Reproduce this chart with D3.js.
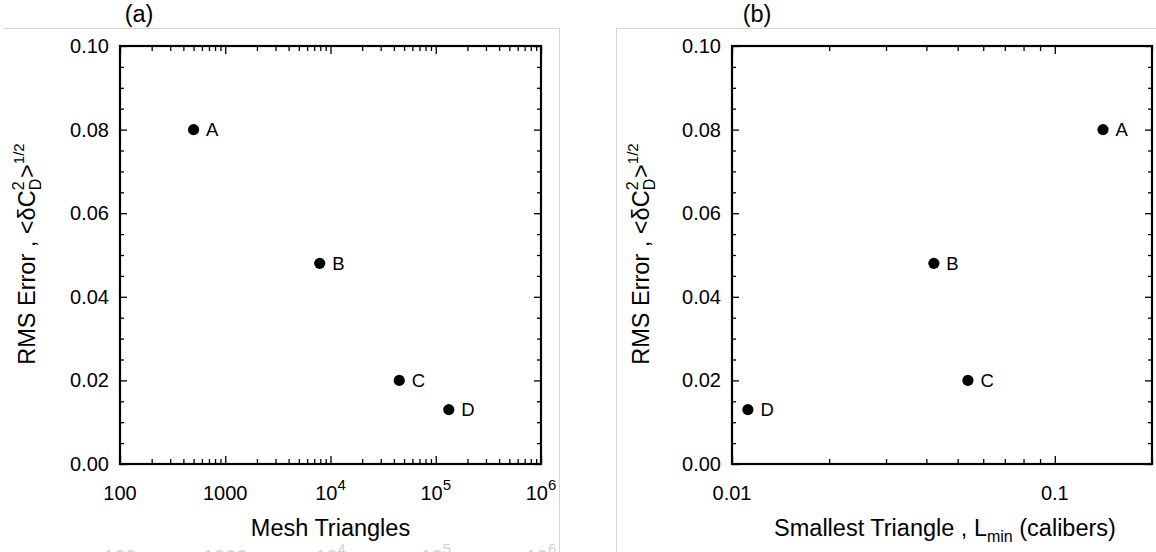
<!DOCTYPE html>
<html>
<head>
<meta charset="utf-8">
<script src="https://cdn.jsdelivr.net/npm/d3@7/dist/d3.min.js"></script>
<style>
  body { margin: 0; background: #fff; }
  svg { display: block; }
  text { font-family: "Liberation Sans", Arial, Helvetica, sans-serif; fill: #000; }
</style>
</head>
<body>
<svg id="chart" width="1156" height="552"></svg>
<script>
// Mesh refinement study: RMS drag error against mesh size
const pointLabels = ["A", "B", "C", "D"];
const meshTriangles = [500, 7900, 45000, 133000];
const smallestTriangle = [0.141, 0.0422, 0.0538, 0.0112];
const rmsError = [0.080, 0.048, 0.020, 0.013];

const yDomain = [0, 0.10];
const yMajorTicks = [0, 0.02, 0.04, 0.06, 0.08, 0.10];
const yMinorStep = 0.005;
const meshDomain = [100, 1e6];
const meshMajorTicks = [100, 1000, 1e4, 1e5, 1e6];
const lminDomain = [0.01, 0.2];
const lminMajorTicks = [0.01, 0.1];
const panelTags = ["(a)", "(b)"];

const svg = d3.select("#chart");
const FONT_TICK = 20, FONT_TITLE = 23.5, FONT_SUP = 15;
const plotTop = 46, plotBottom = 464;

// light panel frames
const frame = svg.append("g").attr("stroke", "#d4d4d4").attr("stroke-width", 1).attr("fill", "none");
frame.append("path").attr("d", "M3,28.5H559.5V552");
frame.append("path").attr("d", "M616.5,552V28.5H1156");

const y = d3.scaleLinear().domain(yDomain).range([plotBottom, plotTop]);
const yMinor = d3.range(yDomain[0], yDomain[1] + 1e-9, yMinorStep)
  .filter(v => !yMajorTicks.some(m => Math.abs(m - v) < 1e-9));

function superPow(t, p) {
  t.append("tspan").text("10");
  t.append("tspan").attr("font-size", FONT_SUP).attr("dy", -10).text(p);
}

function panel(opts) {
  const { x, xs, xMajor, xFmt, tag, tagX, titleGap } = opts;
  const [x0, x1] = x.range();
  const g = svg.append("g");

  // y ticks, inward on both sides
  const yMaj = d3.axisLeft(y).tickValues(yMajorTicks).tickSize(-7).tickPadding(11)
    .tickFormat(d3.format(".2f"));
  const gy = g.append("g").attr("transform", `translate(${x0},0)`).call(yMaj);
  gy.append("g").call(d3.axisLeft(y).tickValues(yMinor).tickSize(-4).tickFormat(""));
  const gyr = g.append("g").attr("transform", `translate(${x1},0)`);
  gyr.call(d3.axisRight(y).tickValues(yMajorTicks).tickSize(-7).tickFormat(""));
  gyr.append("g").call(d3.axisRight(y).tickValues(yMinor).tickSize(-4).tickFormat(""));

  // x ticks (log), inward on bottom and top
  const xMinor = x.ticks().filter(v => !xMajor.some(m => Math.abs(m - v) / m < 1e-6));
  const gx = g.append("g").attr("transform", `translate(0,${plotBottom})`)
    .call(d3.axisBottom(x).tickValues(xMajor).tickSize(-8).tickFormat(""));
  gx.append("g").call(d3.axisBottom(x).tickValues(xMinor).tickSize(-5).tickFormat(""));
  const gxt = g.append("g").attr("transform", `translate(0,${plotTop})`)
    .call(d3.axisTop(x).tickValues(xMajor).tickSize(-8).tickFormat(""));
  gxt.append("g").call(d3.axisTop(x).tickValues(xMinor).tickSize(-5).tickFormat(""));

  g.selectAll(".domain").remove();
  g.selectAll(".tick line").attr("stroke", "#000").attr("stroke-width", 1.3);
  gy.selectAll(".tick text").attr("font-size", FONT_TICK)
    .style("font-family", "'Liberation Sans', Arial, sans-serif");

  // x tick labels with power-of-ten superscripts
  const lab = g.append("g").attr("font-size", FONT_TICK);
  xMajor.forEach(v => {
    const t = lab.append("text").attr("x", x(v)).attr("y", plotBottom + 36).attr("text-anchor", "middle");
    xFmt(t, v);
  });

  // plot box
  g.append("rect").attr("x", x0).attr("y", plotTop).attr("width", x1 - x0).attr("height", plotBottom - plotTop)
    .attr("fill", "none").attr("stroke", "#000").attr("stroke-width", 2.2);

  // data points
  const pts = g.append("g");
  pointLabels.forEach((name, i) => {
    const cx = x(xs[i]), cy = y(rmsError[i]);
    pts.append("circle").attr("cx", cx).attr("cy", cy).attr("r", 5.6).attr("fill", "#000");
    pts.append("text").attr("x", cx + 12.5).attr("y", cy + 6.8).attr("font-size", 18.5).text(name);
  });

  // y title: RMS Error , <δC_D^2>^(1/2)
  const yt = g.append("text")
    .attr("transform", `translate(${x0 - titleGap},${(plotTop + plotBottom) / 2 - 1}) rotate(-90)`)
    .attr("text-anchor", "middle").attr("font-size", FONT_TITLE);
  yt.append("tspan").text("RMS Error , <δC");
  yt.append("tspan").attr("font-size", 16).attr("dy", 6).text("D");
  yt.append("tspan").attr("font-size", 16).attr("dx", -11.5).attr("dy", -17).text("2");
  yt.append("tspan").attr("dx", 3.5).attr("dy", 11).text(">");
  yt.append("tspan").attr("font-size", 15).attr("dy", -11).text("1/2");

  // panel tag
  svg.append("text").attr("x", tagX).attr("y", 22).attr("text-anchor", "middle")
    .attr("font-size", FONT_TITLE).text(tag);
  return g;
}

// (a) against mesh triangle count
const xMesh = d3.scaleLog().domain(meshDomain).range([120, 541]);
const gA = panel({
  x: xMesh, xs: meshTriangles, xMajor: meshMajorTicks, tag: panelTags[0], tagX: 139, titleGap: 85,
  xFmt: (t, v) => {
    const p = Math.round(Math.log10(v));
    if (p <= 3) t.text(String(v));
    else superPow(t, p);
  }
});
gA.append("text").attr("x", (120 + 541) / 2).attr("y", 536).attr("text-anchor", "middle")
  .attr("font-size", FONT_TITLE).text("Mesh Triangles");

// faint repeat of the tick labels at the lower edge
const ghost = svg.append("g").attr("font-size", FONT_TICK);
meshMajorTicks.forEach(v => {
  const p = Math.round(Math.log10(v));
  const t = ghost.append("text").attr("x", xMesh(v)).attr("y", 564).attr("text-anchor", "middle")
    .style("fill", "#d2d2d2");
  if (p <= 3) t.text(String(v));
  else superPow(t, p);
});

// (b) against smallest triangle size
const xLmin = d3.scaleLog().domain(lminDomain).range([732, 1152]);
const gB = panel({
  x: xLmin, xs: smallestTriangle, xMajor: lminMajorTicks, tag: panelTags[1], tagX: 757, titleGap: 83,
  xFmt: (t, v) => t.text(String(v))
});
const xt = gB.append("text").attr("x", (732 + 1152) / 2 + 3).attr("y", 536).attr("text-anchor", "middle")
  .attr("font-size", FONT_TITLE);
xt.append("tspan").text("Smallest Triangle , L");
xt.append("tspan").attr("font-size", 16).attr("dy", 6).text("min");
xt.append("tspan").attr("dy", -6).text(" (calibers)");
</script>
</body>
</html>
